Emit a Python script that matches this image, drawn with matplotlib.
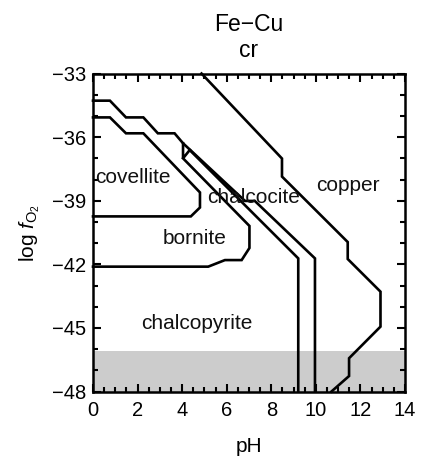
import numpy as np
import matplotlib.pyplot as plt

# Fe-Cu mineral stability diagram, log fO2 vs pH

plt.rcParams['font.family'] = ['Liberation Sans', 'DejaVu Sans']
plt.rcParams['mathtext.fontset'] = 'custom'
plt.rcParams['mathtext.rm'] = 'Liberation Sans'
plt.rcParams['mathtext.it'] = 'Liberation Sans:italic'

# field boundaries (pH, log fO2)
copper_pH = [4.87, 8.48, 8.48, 11.43, 11.43, 12.90, 12.90, 11.49, 11.49, 10.70]
copper_logf = [-33.0, -37.01, -37.86, -40.95, -41.75, -43.29, -44.94, -46.43, -47.27, -48.0]

upper_pH = [0.0, 0.76, 1.48, 2.26, 2.91, 3.66, 4.04, 6.05, 6.82, 7.26, 9.96, 9.96]
upper_logf = [-34.28, -34.28, -35.07, -35.07, -35.82, -35.82, -36.29, -38.26, -39.01, -39.01, -41.72, -48.0]

triangle_pH = [4.04, 4.04, 4.34]
triangle_logf = [-36.29, -37.0, -36.61]

chalcocite_pH = [4.34, 9.21, 9.21]
chalcocite_logf = [-36.61, -41.72, -48.0]

bornite_pH = [4.04, 7.02, 7.02, 6.67, 5.92, 5.17, 0.0]
bornite_logf = [-37.0, -40.19, -41.23, -41.8, -41.8, -42.11, -42.11]

covellite_pH = [0.0, 0.76, 1.48, 2.26, 4.80, 4.80, 4.39, 0.0]
covellite_logf = [-35.07, -35.07, -35.82, -35.82, -38.61, -39.32, -39.74, -39.74]

# water stability limit (shaded below)
water_limit = -46.1

labels = ['covellite', 'bornite', 'chalcocite', 'copper', 'chalcopyrite']
label_pH = [1.77, 4.57, 7.2, 11.45, 4.66]
label_logf = [-37.9, -40.77, -38.87, -38.26, -44.78]

fig = plt.figure(figsize=(4.21, 4.63), dpi=100)
ax = fig.add_axes([0.2209, 0.1544, 0.7411, 0.6868])

ax.axhspan(-48, water_limit, color='#cccccc', lw=0, zorder=0)

lines = [(copper_pH, copper_logf), (upper_pH, upper_logf),
         (triangle_pH, triangle_logf), (chalcocite_pH, chalcocite_logf),
         (bornite_pH, bornite_logf), (covellite_pH, covellite_logf)]
for x, y in lines:
    ax.plot(x, y, color='black', lw=1.9, solid_joinstyle='miter', clip_on=False)

for name, x, y in zip(labels, label_pH, label_logf):
    ax.text(x, y, name, ha='center', va='center', fontsize=15, color='#111111')

ax.set_xlim(0, 14)
ax.set_ylim(-48, -33)
ax.set_xticks(np.arange(0, 15, 2))
ax.set_xticks(np.arange(0, 14.5, 0.5), minor=True)
ax.set_yticks(np.arange(-48, -32, 3))
ax.set_yticks(np.arange(-48, -32, 1), minor=True)
ax.tick_params(which='both', direction='in', top=True, right=True, width=1.5,
               labelsize=14.5, pad=5)
ax.tick_params(axis='x', pad=7)
ax.tick_params(which='major', length=6)
ax.tick_params(which='minor', length=3.5)
for s in ax.spines.values():
    s.set_linewidth(1.8)

ax.set_xlabel('pH', fontsize=15, labelpad=12)
ax.set_ylabel(r'log $f_{\mathrm{O}_2}$', fontsize=15, labelpad=7)
ax.set_title('Fe\u2212Cu\ncr', fontsize=16.5, linespacing=1.15, pad=12)

fig.savefig('out.png', dpi=100)
